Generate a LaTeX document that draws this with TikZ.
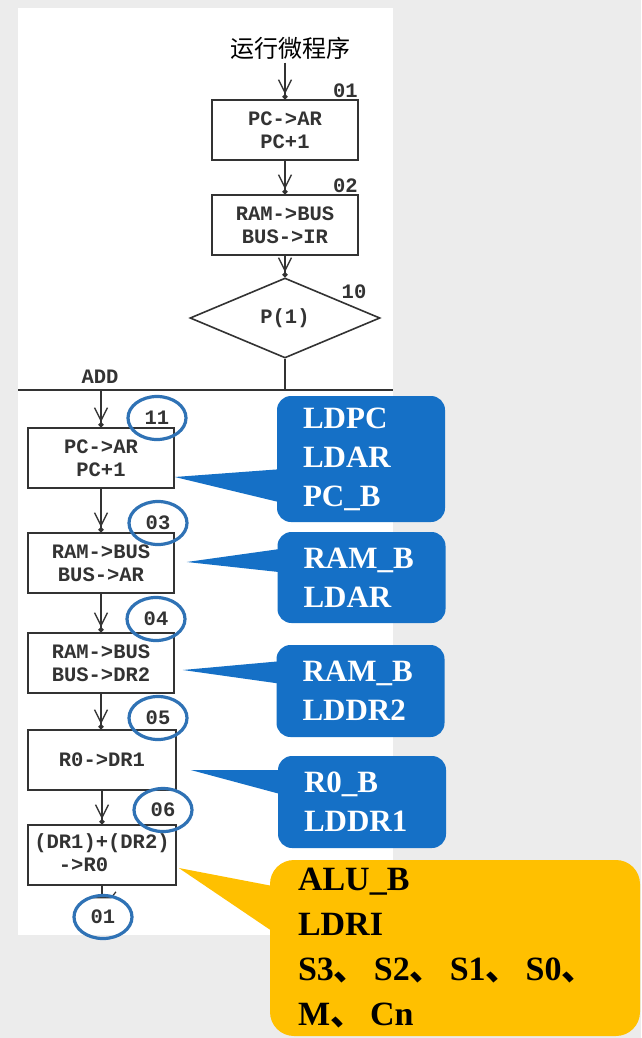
\documentclass[tikz,border=0pt]{standalone}
\usepackage{fontspec}
\setmainfont{Liberation Serif}
\newfontfamily\cjk{Noto Sans CJK SC}
\newfontfamily\mesin{Liberation Mono}
\usetikzlibrary{arrows.meta,shapes.geometric,calc}
\definecolor{biruC}{HTML}{1570C6}
\definecolor{biruL}{HTML}{2F72B5}
\definecolor{oranye}{HTML}{FFC000}
\definecolor{latar}{HTML}{ECECEC}
\definecolor{garis}{HTML}{333333}
\newcommand{\koma}{{\cjk 、}\hspace{6pt}}

\begin{document}
\begin{tikzpicture}[x=1pt,y=-1pt,
      kotak/.style={draw=garis,line width=1.6pt,align=center,inner sep=0pt,
        font=\mesin\bfseries\fontsize{20.5}{23}\selectfont,text=garis,
        minimum width=146,minimum height=60},
      belah/.style={draw=garis,line width=1.6pt,diamond,inner sep=0pt,
        font=\mesin\bfseries\fontsize{20.5}{23}\selectfont,text=garis,
        minimum width=190,minimum height=80},
      nomor/.style={inner sep=1pt,font=\mesin\bfseries\fontsize{20.5}{23}\selectfont,text=garis},
      lingkar/.style={nomor,ellipse,draw=biruL,line width=3.2pt,
        minimum width=58,minimum height=43},
      tipb/.style={fill=biruC,rounded corners=14pt,text=white,align=left,
        font=\bfseries\fontsize{31}{39}\selectfont,
        inner xsep=26,text width=116},
      tipo/.style={fill=oranye,rounded corners=24pt,text=black,align=left,
        font=\bfseries\fontsize{34}{45}\selectfont,
        inner xsep=28,text width=314,minimum height=176},
      pn/.style={line width=1.6pt,draw=garis,
        -{Straight Barb[length=13pt,width=13pt,line width=1.4pt] Circle[length=5pt]}}]

    % Latar
    \useasboundingbox (0,0) rectangle (641,1038);
    \fill[latar] (0,0) rectangle (641,1038);
    \fill[white] (18,8) rectangle (393,935);

    % Bagian pengambilan instruksi
    \node[font=\cjk\fontsize{24}{26}\selectfont,text=black] (mulai) at (290,48) {运行微程序};
    \node[kotak] (b01) at (285,130) {PC->AR\\PC+1};
    \node[kotak] (b02) at (285,225) {RAM->BUS\\BUS->IR};
    \node[belah] (d10) at (285,318) {P(1)};
    \node[nomor,anchor=south east] at (b01.north east) {01};
    \node[nomor,anchor=south east] at (b02.north east) {02};
    \node[nomor] at (354,292) {10};

    \draw[pn] (b01.north |- mulai.south) -- (b01.north);
    \draw[pn] (b01) -- (b02);
    \draw[pn] (b02) -- (d10);

    % Jalur ADD
    \coordinate (busL) at (18,390);
    \coordinate (busR) at (393,390);
    \draw[line width=1.6pt,garis] (busL) -- (busR);
    \draw[line width=1.6pt,garis] (d10.south) -- (d10.south |- busL);
    \node[nomor] (add) at (100,377) {ADD};

    \node[kotak] (b11) at (101,458) {PC->AR\\PC+1};
    \node[kotak] (b03) at (101,563) {RAM->BUS\\BUS->AR};
    \node[kotak] (b04) at (101,663) {RAM->BUS\\BUS->DR2};
    \node[kotak,minimum width=148] (b05) at (102,760) {R0->DR1};
    \node[kotak,minimum width=148] (b06) at (102,855) {(DR1)+(DR2)\\->R0\phantom{R2)}};

    \draw[pn] (b11.north |- busL) -- (b11.north);
    \foreach \a/\b in {b11/b03, b03/b04, b04/b05, b05/b06}
      {\draw[pn] (\a.south) -- (\a.south |- \b.north);}

    % Keluar ke 01
    \draw[line width=1.6pt,garis] (b06.south) -- ++(0,12) coordinate (k);
    \draw[line width=1.2pt,garis] ([xshift=-14]k) -- ([xshift=9]k) -- ++(5,-6);

    % Nomor mikro dilingkari
    \node[lingkar] (e11) at (157,418) {11};
    \node[lingkar] (e03) at (158,523) {03};
    \node[lingkar] (e04) at (156,619) {04};
    \node[lingkar] (e05) at (158,718) {05};
    \node[lingkar] (e06) at (163,810) {06};
    \node[lingkar] (e01) at (103,917) {01};

    % Sinyal kendali
    \node[tipb,minimum height=126] (c1) at (361,459) {LDPC\\LDAR\\PC\_B};
    \node[tipb,minimum height=91] (c2) at (361.5,577.5) {RAM\_B\\LDAR};
    \node[tipb,minimum height=92] (c3) at (360.5,691) {RAM\_B\\LDDR2};
    \node[tipb,minimum height=92] (c4) at (362,802) {R0\_B\\LDDR1};
    \node[tipo] (c5) at (455,948)
      {ALU\_B\\LDRI\\S3\koma S2\koma S1\koma S0{\cjk 、}\\M\koma Cn};

    \fill[biruC] ($(b11.east)+(0,19)$) -- ($(c1.west)+(6,10)$) -- ($(c1.west)+(6,44)$) -- cycle;
    \fill[biruC] ($(b03.east)+(12,-1)$) -- ($(c2.west)+(6,-29)$) -- ($(c2.west)+(6,-5)$) -- cycle;
    \fill[biruC] ($(b04.east)+(8,7)$) -- ($(c3.west)+(6,-30)$) -- ($(c3.west)+(6,-7)$) -- cycle;
    \fill[biruC] ($(b05.east)+(14,10)$) -- ($(c4.west)+(6,-32)$) -- ($(c4.west)+(6,-7)$) -- cycle;
    \fill[oranye] ($(b06.east)+(2,13)$) -- ($(c5.west)+(8,-61)$) -- ($(c5.west)+(8,-13)$) -- cycle;
  \end{tikzpicture}
\end{document}
